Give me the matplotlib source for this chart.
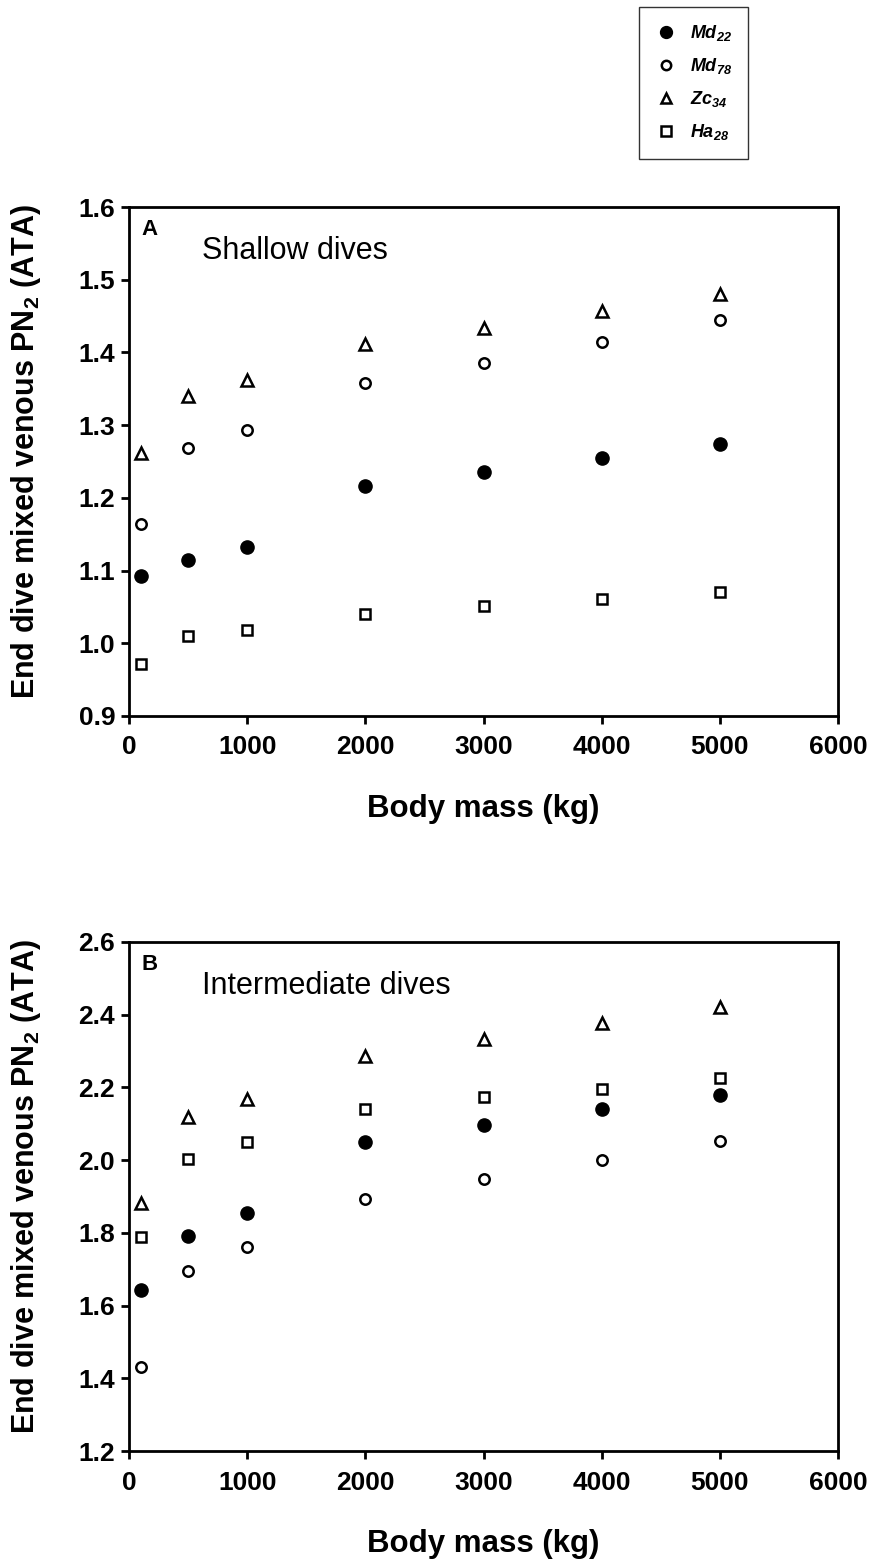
import matplotlib as mpl
mpl.use('Agg')
import matplotlib.pyplot as plt
from matplotlib.lines import Line2D

plt.rcParams['font.family'] = ['Liberation Sans', 'DejaVu Sans']
plt.rcParams['mathtext.fontset'] = 'custom'
plt.rcParams['mathtext.rm'] = 'Liberation Sans'
plt.rcParams['mathtext.bf'] = 'Liberation Sans:bold'
plt.rcParams['mathtext.it'] = 'Liberation Sans:italic'
plt.rcParams['mathtext.bfit'] = 'Liberation Sans:italic:bold'

# body mass (kg)
mass = [100, 500, 1000, 2000, 3000, 4000, 5000]

# panel A - shallow dives
shallow_md22 = [1.092, 1.115, 1.133, 1.217, 1.235, 1.255, 1.274]
shallow_md78 = [1.164, 1.268, 1.294, 1.358, 1.386, 1.415, 1.444]
shallow_zc34 = [1.262, 1.340, 1.362, 1.411, 1.433, 1.457, 1.481]
shallow_ha28 = [0.972, 1.010, 1.018, 1.040, 1.051, 1.061, 1.071]

# panel B - intermediate dives
inter_md22 = [1.643, 1.792, 1.856, 2.050, 2.098, 2.141, 2.180]
inter_md78 = [1.430, 1.696, 1.760, 1.892, 1.947, 2.000, 2.052]
inter_zc34 = [1.882, 2.119, 2.167, 2.286, 2.333, 2.378, 2.421]
inter_ha28 = [1.789, 2.002, 2.051, 2.140, 2.173, 2.196, 2.226]

labels = [r'$\mathbfit{Md}_{\mathbfit{22}}$', r'$\mathbfit{Md}_{\mathbfit{78}}$',
          r'$\mathbfit{Zc}_{\mathbfit{34}}$', r'$\mathbfit{Ha}_{\mathbfit{28}}$']

styles = [dict(marker='o', ms=9.5, mfc='black', mec='black'),
          dict(marker='o', ms=7.5, mfc='white', mec='black', mew=1.8),
          dict(marker='^', ms=8.5, mfc='white', mec='black', mew=1.8),
          dict(marker='s', ms=7.5, mfc='white', mec='black', mew=1.8)]

fig = plt.figure(figsize=(8.72, 15.64), dpi=100)

ylabel = r'End dive mixed venous PN$_\mathbf{2}$ (ATA)'


def draw_panel(ax, series, ylim, yticks, letter, title):
    for vals, st in zip(series, styles):
        ax.plot(mass, vals, linestyle='none', clip_on=False, **st)
    ax.set_xlim(0, 6000)
    ax.set_ylim(*ylim)
    ax.set_xticks(range(0, 6001, 1000))
    ax.set_yticks(yticks)
    ax.set_yticklabels(['%.1f' % t for t in yticks])
    for s in ax.spines.values():
        s.set_linewidth(2)
    ax.tick_params(direction='out', length=6, width=2, labelsize=19, pad=4)
    ax.tick_params(axis='x', pad=8)
    for lab in ax.get_xticklabels() + ax.get_yticklabels():
        lab.set_fontweight('bold')
    ax.set_xlabel('Body mass (kg)', fontsize=22.5, fontweight='bold')
    ax.xaxis.set_label_coords(0.5, -0.153)
    ax.set_ylabel(ylabel, fontsize=22, fontweight='bold')
    ax.yaxis.set_label_coords(-0.122, 0.52)
    ax.text(0.018, 0.976, letter, transform=ax.transAxes, fontsize=16,
            fontweight='bold', va='top', ha='left')
    ax.text(0.103, 0.943, title, transform=ax.transAxes, fontsize=22,
            va='top', ha='left')


axA = fig.add_axes([0.148, 0.5422, 0.813, 0.3254])
draw_panel(axA, [shallow_md22, shallow_md78, shallow_zc34, shallow_ha28],
           (0.9, 1.6), [0.9, 1.0, 1.1, 1.2, 1.3, 1.4, 1.5, 1.6], 'A', 'Shallow dives')

axB = fig.add_axes([0.148, 0.0722, 0.813, 0.3255])
draw_panel(axB, [inter_md22, inter_md78, inter_zc34, inter_ha28],
           (1.2, 2.6), [1.2, 1.4, 1.6, 1.8, 2.0, 2.2, 2.4, 2.6], 'B', 'Intermediate dives')

handles = []
for st in styles:
    h = dict(st)
    h['ms'] = h['ms'] * 0.9
    handles.append(Line2D([], [], linestyle='none', **h))
leg = fig.legend(handles, labels, loc='upper left', bbox_to_anchor=(0.733, 0.9955),
                 borderaxespad=0, frameon=True, fancybox=False, edgecolor='black',
                 fontsize=13, handletextpad=0.7, labelspacing=0.72, borderpad=0.9,
                 handlelength=1.2)
leg.get_frame().set_linewidth(1.0)

fig.savefig('out.png', dpi=100)
